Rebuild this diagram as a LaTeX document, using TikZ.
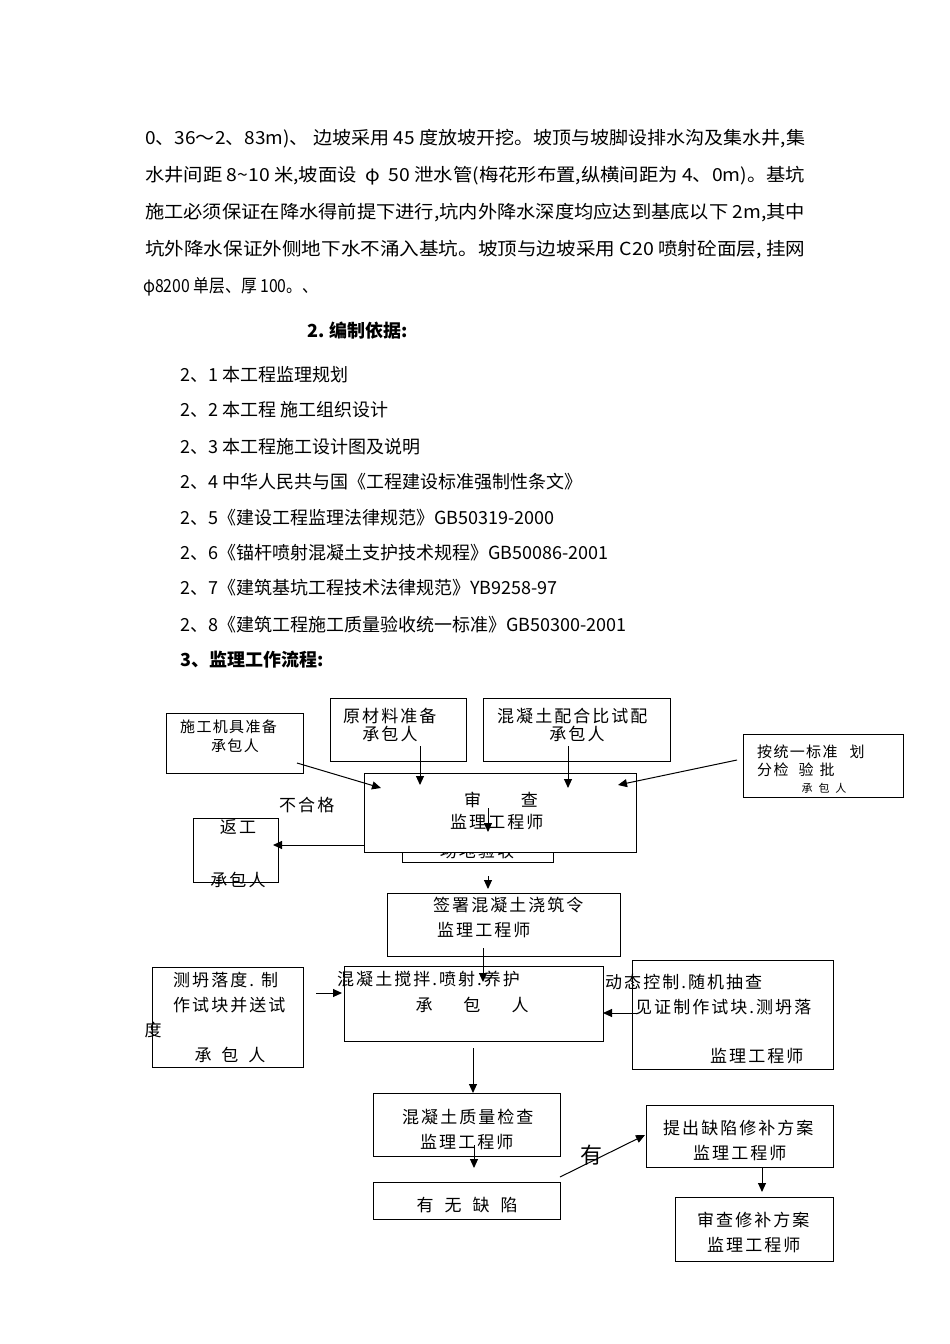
\documentclass[tikz,border=0pt]{standalone}
\usepackage{fontspec}
\usepackage{graphicx}
\setmainfont{Noto Sans CJK SC}
\newfontfamily\cjk{Noto Sans CJK SC}
\newfontfamily\cjkls[LetterSpace=12]{Noto Sans CJK SC}
\newfontfamily\cjklt[LetterSpace=9]{Noto Sans CJK SC}
\usetikzlibrary{arrows.meta}
\newcommand\pline[2]{\resizebox{#1}{\height}{#2}}
\begin{document}
\begin{tikzpicture}[x=1pt,y=-1pt,
  box/.style={draw, line width=1pt, inner sep=0pt, anchor=north west},
  arr/.style={-{Triangle[length=9pt,width=8pt]}, line width=1pt},
  para/.style={inner sep=0pt, anchor=west, font=\cjk\fontsize{18}{18}\selectfont},
  lst/.style={inner sep=0pt, anchor=west, font=\cjk\fontsize{18}{18}\selectfont},
  hd/.style={inner sep=0pt, anchor=west, font=\cjk\bfseries\fontsize{18}{18}\selectfont},
  ft/.style={inner sep=0pt, anchor=west, font=\cjkls\fontsize{17}{17}\selectfont},
  ftc/.style={ft, anchor=center},
  fs/.style={inner sep=0pt, anchor=west, font=\cjklt\fontsize{15}{15}\selectfont},
  fsc/.style={fs, anchor=center},
]
\useasboundingbox (0,0) rectangle (950,1344);
\fill[white] (0,0) rectangle (950,1344);

% ---- paragraph ----
\node[para] (p1) at (145,139) {\pline{660pt}{0、36～2、83m)、 边坡采用 45 度放坡开挖。坡顶与坡脚设排水沟及集水井,集}};
\node[para] (p2) at (145,176) {\pline{660pt}{水井间距 8\textasciitilde 10 米,坡面设 \ φ \ 50 泄水管(梅花形布置,纵横间距为 4、0m)。基坑}};
\node[para] (p3) at (145,213) {\pline{660pt}{施工必须保证在降水得前提下进行,坑内外降水深度均应达到基底以下 2m,其中}};
\node[para] (p4) at (145,250) {\pline{660pt}{坑外降水保证外侧地下水不涌入基坑。坡顶与边坡采用 C20 喷射砼面层, 挂网}};
\node[para] (p5) at (143,287) {\pline{175pt}{φ8200 单层、厚 100。、}};

% ---- section 2 ----
\node[hd] (h2) at (307,331) {2. 编制依据:};
\node[lst] (l1) at (180,375) {2、1 本工程监理规划};
\node[lst] (l2) at (180,410) {2、2 本工程 施工组织设计};
\node[lst] (l3) at (180,447) {2、3 本工程施工设计图及说明};
\node[lst] (l4) at (180,482) {2、4 中华人民共与国《工程建设标准强制性条文》};
\node[lst] (l5) at (180,518) {2、5《建设工程监理法律规范》GB50319-2000};
\node[lst] (l6) at (180,553) {2、6《锚杆喷射混凝土支护技术规程》GB50086-2001};
\node[lst] (l7) at (180,588) {2、7《建筑基坑工程技术法律规范》YB9258-97};
\node[lst] (l8) at (180,625) {2、8《建筑工程施工质量验收统一标准》GB50300-2001};
\node[hd] (h3) at (180,660) {3、监理工作流程:};

% ---- flowchart boxes ----
\node[box, minimum width=137pt, minimum height=60pt] (b1) at (166,713) {};
\node[box, minimum width=136pt, minimum height=63pt] (b2) at (330,698) {};
\node[box, minimum width=187pt, minimum height=63pt] (b3) at (483,698) {};
\node[box, minimum width=160pt, minimum height=63pt] (b4) at (743,734) {};
\node[box, minimum width=151pt, minimum height=32pt] (b6) at (402,830) {};
\node[ftc] (t6) at (477,851) {场地验收};
\node[box, fill=white, minimum width=272pt, minimum height=79pt] (b5) at (364,773) {};
\node[box, minimum width=85pt, minimum height=64pt] (b7) at (193,818) {};
\node[box, minimum width=233pt, minimum height=63pt] (b9) at (387,893) {};
\node[box, minimum width=151pt, minimum height=100pt] (b10) at (152,967) {};
\node[box, minimum width=259pt, minimum height=75pt] (b11) at (344,966) {};
\node[box, minimum width=201pt, minimum height=109pt] (b13) at (632,960) {};
\node[box, minimum width=187pt, minimum height=63pt] (b14) at (373,1093) {};
\node[box, minimum width=187pt, minimum height=37pt] (b15) at (373,1182) {};
\node[box, minimum width=187pt, minimum height=62pt] (b16) at (646,1105) {};
\node[box, minimum width=158pt, minimum height=64pt] (b17) at (675,1197) {};

% ---- flowchart texts ----
\node[fs] (t1a) at (180,727) {施工机具准备};
\node[fsc] (t1b) at (235,746) {承包人};
\node[ft] (t2a) at (343,716) {原材料准备};
\node[ftc] (t2b) at (390,734) {承包人};
\node[ft] (t3a) at (497,716) {混凝土配合比试配};
\node[ftc] (t3b) at (577,734) {承包人};
\node[fs] (t4a) at (757,752) {按统一标准\hspace{12pt}划};
\node[fs] (t4b) at (757,770) {分检\hspace{10pt}验\hspace{6pt}批};
\node[inner sep=0pt, font=\cjk\fontsize{11}{11}\selectfont] (t4c) at (824,788) {承\hspace{6pt}包\hspace{6pt}人};
\node[ftc] (t5a) at (501,800) {审\hspace{40pt}查};
\node[ft] (t5b) at (450,822) {监理工程师};
\node[ft] (t7) at (279,805) {不合格};
\node[ftc] (t8a) at (238,827) {返工};
\node[ftc] (t8b) at (238,880) {承包人};
\node[ft] (t9a) at (433,905) {签署混凝土浇筑令};
\node[ft] (t9b) at (437,930) {监理工程师};
\node[ft] (t10a) at (173,980) {测坍落度.\hspace{7pt}制};
\node[ft] (t10b) at (173,1005) {作试块并送试};
\node[ftc] (t10c) at (153,1030) {度};
\node[ftc] (t10d) at (230,1055) {承\hspace{10pt}包\hspace{10pt}人};
\node[ft] (t11a) at (337,979) {混凝土搅拌.\hspace{2pt}喷射.\hspace{2pt}养护};
\node[ftc] (t11b) at (472,1005) {承\hspace{31pt}包\hspace{31pt}人};
\node[ft] (t12) at (605,982) {动态控制.随机抽查};
\node[ft] (t13a) at (635,1007) {见证制作试块.测坍落};
\node[ft] (t13b) at (710,1056) {监理工程师};
\node[ft] (t14a) at (402,1117) {混凝土质量检查};
\node[ft] (t14b) at (420,1142) {监理工程师};
\node[ftc] (t15) at (467,1205) {有\hspace{11pt}无\hspace{11pt}缺\hspace{11pt}陷};
\node[inner sep=0pt, font=\cjk\fontsize{22}{22}\selectfont] (t16) at (591,1155) {有};
\node[ft] (t17a) at (663,1128) {提出缺陷修补方案};
\node[ft] (t17b) at (693,1153) {监理工程师};
\node[ft] (t18a) at (697,1220) {审查修补方案};
\node[ft] (t18b) at (707,1245) {监理工程师};

% ---- connectors ----
\coordinate (a1s) at (297,763);  \coordinate (a1e) at (381,788);
\coordinate (a2s) at (420,746);  \coordinate (a2e) at (420,785);
\coordinate (a3s) at (568,746);  \coordinate (a3e) at (568,788);
\coordinate (a4s) at (737,760);  \coordinate (a4e) at (618,785);
\coordinate (a5s) at (488,808);  \coordinate (a5e) at (488,832);
\coordinate (a6s) at (364,845);  \coordinate (a6e) at (273,845);
\coordinate (a7s) at (488,876);  \coordinate (a7e) at (488,889);
\coordinate (a8s) at (483,948);  \coordinate (a8e) at (483,982);
\coordinate (a9s) at (316,993);  \coordinate (a9e) at (342,993);
\coordinate (a10s) at (637,1013); \coordinate (a10e) at (603,1013);
\coordinate (a11s) at (473,1048); \coordinate (a11e) at (473,1093);
\coordinate (a12s) at (474,1145); \coordinate (a12e) at (474,1168);
\coordinate (a13s) at (560,1177); \coordinate (a13e) at (645,1135);
\coordinate (a14s) at (762,1167); \coordinate (a14e) at (762,1192);
\foreach \i in {1,...,14} {\draw[arr] (a\i s) -- (a\i e);}
\end{tikzpicture}
\end{document}
